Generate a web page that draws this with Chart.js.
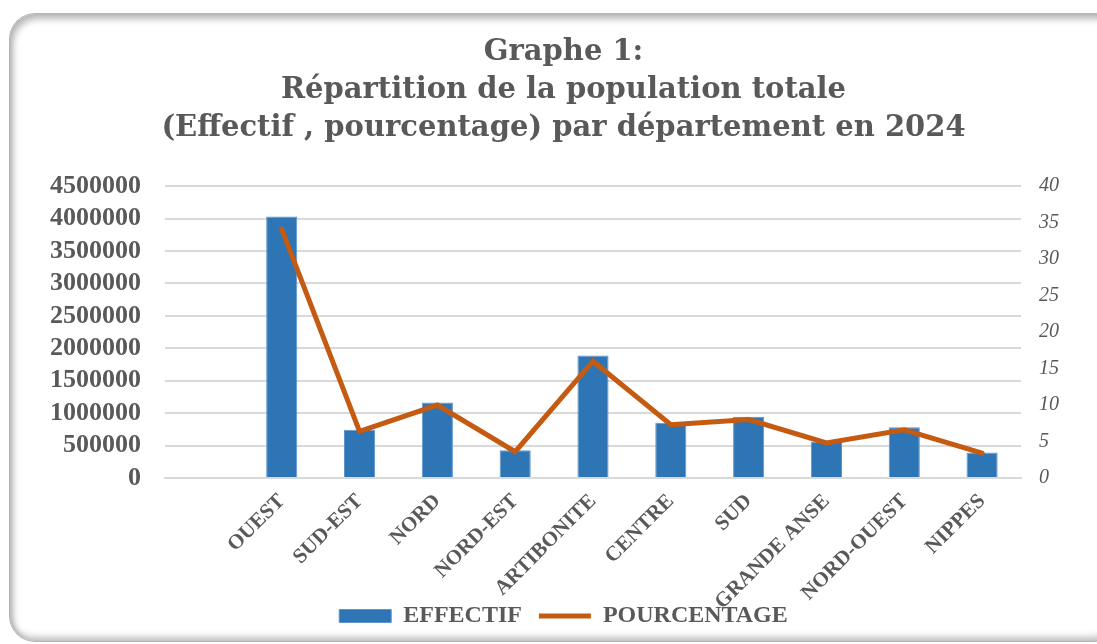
<!DOCTYPE html>
<html>
<head>
<meta charset="utf-8">
<script src="https://cdn.jsdelivr.net/npm/chart.js@4.4.0/dist/chart.umd.min.js"></script>
<style>
  html, body { margin: 0; padding: 0; background: #fff; }
  body { width: 1097px; height: 644px; position: relative; overflow: hidden; }
  .frame {
    position: absolute; left: 9px; top: 13px; width: 1110px; height: 627px;
    border: 1px solid #b5b5b5; border-radius: 26px;
    box-shadow: inset 3px 5px 7px rgba(0,0,0,0.28), inset -2px -4px 7px rgba(0,0,0,0.25);
    background: #fff;
  }
  .wrap { position: absolute; left: 30px; top: 0; width: 1067px; height: 644px; }
</style>
</head>
<body>
<div class="frame"></div>
<div class="wrap"><canvas id="graphe"></canvas></div>
<script>
// categories (first slot is empty in the source chart)
const departements = ['', 'OUEST', 'SUD-EST', 'NORD', 'NORD-EST', 'ARTIBONITE', 'CENTRE', 'SUD', 'GRANDE ANSE', 'NORD-OUEST', 'NIPPES'];
const effectif = [null, 4030000, 745000, 1165000, 428000, 1890000, 852000, 943000, 557000, 784000, 393000];
const pourcentage = [null, 34.1, 6.4, 10.0, 3.6, 16.0, 7.3, 8.0, 4.8, 6.6, 3.4];

const titreLignes = [
  'Graphe 1:',
  'Répartition de la population totale',
  '(Effectif , pourcentage) par département en 2024'
];

const gris = '#595959';
const grille = '#d9d9d9';

// let the rotated category labels run down into the legend zone (as in the source)
const labelsSansClip = {
  id: 'labelsSansClip',
  afterLayout(chart) {
    chart.scales.x.bottom = chart.height;
  },
};

const ctx = document.getElementById('graphe').getContext('2d');

new Chart(ctx, {
  type: 'bar',
  data: {
    labels: departements,
    datasets: [
      {
        label: 'EFFECTIF',
        data: effectif,
        backgroundColor: '#2e75b6',
        borderColor: '#5f95cc',
        borderWidth: 1,
        barPercentage: 0.4,
        categoryPercentage: 1,
        pointStyle: 'rect',
        yAxisID: 'y',
        order: 2,
      },
      {
        type: 'line',
        label: 'POURCENTAGE',
        data: pourcentage,
        borderColor: '#c55a11',
        backgroundColor: '#c55a11',
        borderWidth: 5,
        borderCapStyle: 'round',
        pointRadius: 0,
        pointStyle: 'line',
        tension: 0,
        yAxisID: 'y1',
        order: 1,
      },
    ],
  },
  plugins: [labelsSansClip],
  options: {
    responsive: true,
    maintainAspectRatio: false,
    animation: false,
    layout: { padding: { top: 0, bottom: 6, left: 0, right: 0 } },
    scales: {
      x: {
        grid: { display: false },
        border: { color: grille, width: 2 },
        ticks: {
          color: gris,
          font: { family: 'Liberation Serif', size: 21, weight: 'bold' },
          minRotation: 45,
          maxRotation: 45,
          autoSkip: false,
          padding: 3,
        },
        afterFit: (scale) => { scale.height = 109 },
      },
      y: {
        position: 'left',
        min: 0,
        max: 4500000,
        grid: { color: grille, lineWidth: 2, drawTicks: false },
        border: { display: false },
        ticks: {
          stepSize: 500000,
          autoSkip: false,
          color: gris,
          padding: 24,
          font: { family: 'Liberation Serif', size: 26, weight: 'bold' },
          callback: (v) => String(v),
        },
        afterFit: (scale) => { scale.width = 135 },
      },
      y1: {
        position: 'right',
        min: 0,
        max: 40,
        grid: { display: false, drawTicks: false },
        border: { display: false },
        ticks: {
          stepSize: 5,
          autoSkip: false,
          color: gris,
          padding: 18,
          font: { family: 'Liberation Serif', size: 20, style: 'italic' },
        },
        afterFit: (scale) => { scale.width = 76 },
      },
    },
    plugins: {
      title: {
        display: true,
        text: titreLignes,
        color: gris,
        font: { family: 'DejaVu Serif', size: 29, weight: 'bold', lineHeight: 1.3 },
        padding: { top: 34, bottom: 39 },
      },
      legend: {
        display: true,
        position: 'bottom',
        labels: {
          color: gris,
          usePointStyle: true,
          pointStyleWidth: 52,
          boxHeight: 13,
          padding: 17,
          font: { family: 'Liberation Serif', size: 24, weight: 'bold' },
          sort: (a, b) => a.datasetIndex - b.datasetIndex,
        },
      },
      tooltip: { enabled: false },
    },
  },
});
</script>
</body>
</html>
